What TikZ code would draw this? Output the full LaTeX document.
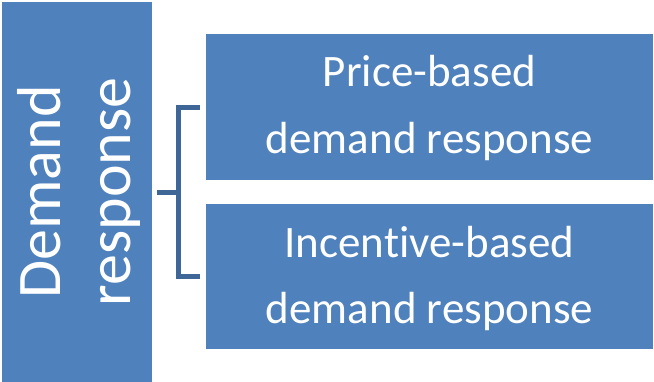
\documentclass[tikz,border=0pt]{standalone}
\usepackage{fontspec}
\setmainfont{Carlito}[Ligatures=NoCommon]
\definecolor{boxblue}{HTML}{4F81BD}
\definecolor{linkblue}{HTML}{3E6797}
\begin{document}
\begin{tikzpicture}[x=1pt,y=-1pt,
  box/.style={fill=boxblue, draw=none, inner sep=0pt, outer sep=0pt},
  bigtext/.style={text=white, inner sep=0pt, anchor=base, rotate=90,
    font=\fontsize{62}{70}\selectfont},
  label/.style={text=white, inner sep=0pt, anchor=base,
    font=\fontsize{45}{67}\selectfont},
  bracket/.style={draw=linkblue, line width=5pt, line join=miter}]
\useasboundingbox (0,0) rectangle (654,381);

% main block on the left
\node[box, minimum width=150pt, minimum height=380pt] (dr) at (77,192) {};
\node[bigtext] (drA) at (60,192) {Demand};
\node[bigtext] (drB) at (130,192) {response};

% the two kinds of demand response
\node[box, minimum width=447pt, minimum height=146pt] (pb) at (429.5,107) {};
\node[label] (pbA) at (429.5,86) {Price-based};
\node[label] (pbB) at (429.5,153) {demand response};

\node[box, minimum width=447pt, minimum height=145pt] (ib) at (429.5,276.5) {};
\node[label] (ibA) at (429.5,257) {Incentive-based};
\node[label] (ibB) at (429.5,323) {demand response};

% bracket joining them
\coordinate (jn) at (178.5,192);
\draw[bracket] ([xshift=5pt]dr.east) -- (jn);
\draw[bracket] ([xshift=-6pt]pb.west) -| (jn) |- ([xshift=-6pt]ib.west);
\end{tikzpicture}
\end{document}
